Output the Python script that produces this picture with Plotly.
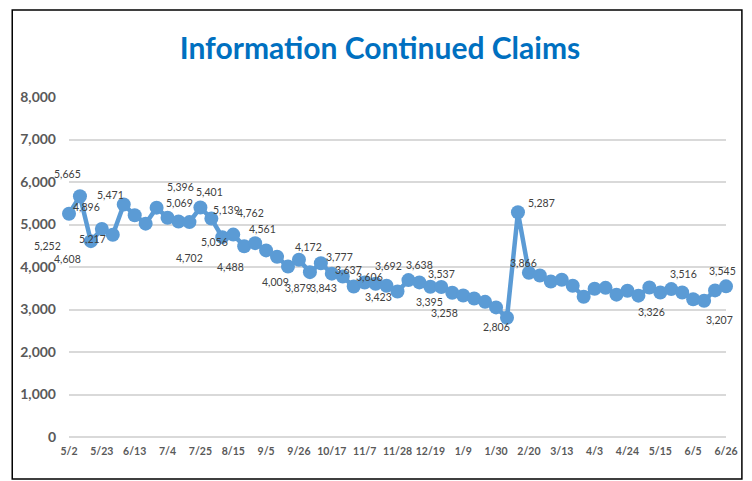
import plotly.graph_objects as go

# Weekly continued claims (index 0 = 5/2 ... index 60 = 6/26)
values = [5252, 5665, 4608, 4896, 4760, 5471, 5217, 5020, 5396, 5160,
          5069, 5056, 5401, 5139, 4702, 4762, 4488, 4561, 4390, 4240,
          4009, 4172, 3879, 4090, 3843, 3777, 3540, 3637, 3606, 3560,
          3423, 3692, 3638, 3537, 3530, 3395, 3330, 3258, 3180, 3050,
          2806, 5287, 3866, 3800, 3660, 3700, 3560, 3300, 3490, 3510,
          3350, 3440, 3326, 3516, 3400, 3480, 3400, 3240, 3207, 3450, 3545]
weeks = list(range(len(values)))

tick_labels = ["5/2", "5/23", "6/13", "7/4", "7/25", "8/15", "9/5", "9/26",
               "10/17", "11/7", "11/28", "12/19", "1/9", "1/30", "2/20",
               "3/13", "4/3", "4/24", "5/15", "6/5", "6/26"]
tick_step = 3

# Which points carry a data label, and the label's pixel offset (dx, dy-down)
label_offsets = {
    0: (-22, 32), 1: (-12, -22), 2: (-23, 18), 3: (-15, -22), 5: (-13, -9),
    6: (-42, 24), 8: (24, -21), 10: (1, -19), 11: (25, 20), 12: (9, -15),
    13: (15, -9), 14: (-33, 21), 15: (17, -22), 16: (-14, 21), 17: (7, -14),
    20: (-13, 15), 21: (10, -13), 22: (-11, 16), 24: (-8, 14), 25: (-3, -19),
    27: (-16, -12), 28: (-6, -7), 30: (-19, 5), 31: (-20, -14), 32: (0, -17),
    33: (11, -13), 35: (-23, 9), 37: (-30, 14), 40: (-11, 9), 41: (24, -9),
    42: (-5, -10), 52: (13, 16), 53: (34, -14), 58: (15, 19), 60: (-4, -15),
}

FONT = "Lato, Noto Sans, sans-serif"

fig = go.Figure()
fig.add_trace(go.Scatter(
    x=weeks, y=values, mode="lines+markers",
    line=dict(color="#5B9BD5", width=4.5),
    marker=dict(color="#5B9BD5", size=14),
    cliponaxis=False, hoverinfo="skip", showlegend=False,
))

annotations = []
for i, (dx, dy) in label_offsets.items():
    annotations.append(dict(
        x=weeks[i], y=values[i], xref="x", yref="y",
        text=f"{values[i]:,}", showarrow=False,
        xshift=dx, yshift=-dy, xanchor="center", yanchor="middle",
        font=dict(family=FONT, size=10.5, color="#404040"),
    ))

fig.update_layout(
    width=744, height=473,
    margin=dict(l=58, r=26, t=89, b=44),
    paper_bgcolor="white", plot_bgcolor="white",
    title=dict(text="<b>Information Continued Claims</b>", x=0.5, xanchor="center",
               y=0.915, yanchor="middle",
               font=dict(family=FONT, size=30, color="#0070C0")),
    xaxis=dict(range=[0, len(values) - 1], tickmode="array",
               tickvals=weeks[::tick_step], ticktext=tick_labels,
               showgrid=False, zeroline=False, showline=False, ticks="",
               tickfont=dict(family=FONT, size=10.5, color="#595959", weight="bold"),
               ticklabelstandoff=6),
    yaxis=dict(range=[0, 8000], dtick=1000, tickformat=",",
               showgrid=True, gridcolor="#D9D9D9", gridwidth=2,
               zeroline=True, zerolinecolor="#D9D9D9", zerolinewidth=2,
               showline=False, ticks="",
               tickfont=dict(family=FONT, size=14, color="#595959", weight="bold"),
               ticklabelstandoff=12),
    annotations=annotations,
    shapes=[dict(type="rect", xref="paper", yref="paper",
                 x0=-0.0864, x1=1.0242, y0=-0.1235, y1=1.2559,
                 line=dict(color="black", width=1.5), fillcolor="rgba(0,0,0,0)")],
)

fig.write_html("out.html")
